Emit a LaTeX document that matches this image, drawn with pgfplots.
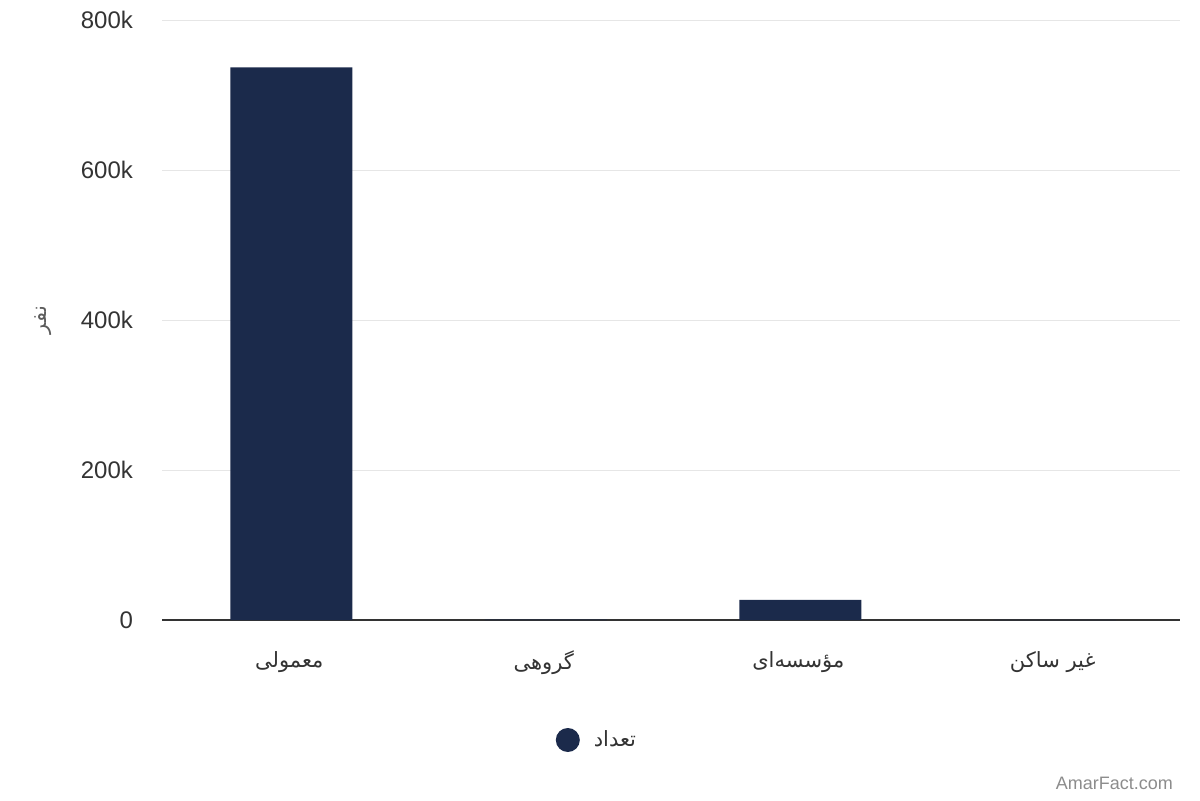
\documentclass[border=0pt]{standalone}
\usepackage{fontspec}
\usepackage{pgfplots}
\pgfplotsset{compat=1.18}
\setmainfont{Liberation Sans}
\newfontfamily\arabicfont[Script=Arabic]{DejaVu Sans}
\TeXXeTstate=1
\definecolor{barblue}{HTML}{1B2A4B}
\definecolor{txt}{HTML}{333333}
\definecolor{gridc}{HTML}{E6E6E6}

\begin{document}
\begin{tikzpicture}
\useasboundingbox (0,0) rectangle (600pt,400pt);
\begin{axis}[
    at={(81pt,90pt)}, anchor=south west,
    width=509pt, height=300pt, scale only axis,
    xmin=-0.5, xmax=3.5,
    ymin=0, ymax=800000,
    axis x line*=bottom, axis y line*=left,
    x axis line style={-, draw=txt, line width=1pt},
    y axis line style={draw=none},
    major tick length=0pt,
    ymajorgrids=true,
    major grid style={draw=gridc, line width=0.5pt},
    ytick={0,200000,400000,600000,800000},
    yticklabels={0,200k,400k,600k,800k},
    scaled y ticks=false,
    yticklabel style={font=\fontsize{12}{14}\selectfont, text=txt, xshift=-11pt},
    xtick=data,
    xticklabels={
        {\arabicfont\beginR معمولی\endR},
        {\arabicfont\beginR گروهی\endR},
        {\arabicfont\beginR مؤسسه‌ای\endR},
        {\arabicfont\beginR غیر ساکن\endR}},
    xticklabel style={font=\fontsize{10.5}{13}\selectfont, text=txt, yshift=-12pt},
    ylabel={\arabicfont\beginR نفر\endR},
    ylabel style={font=\fontsize{10.5}{12}\selectfont, text=txt!80, at={(axis description cs:-0.117,0.5)}, anchor=center},
    legend style={at={(axis description cs:0.4282,-0.2)}, anchor=center, draw=none, fill=none,
        font=\fontsize{10.5}{13}\selectfont, text=txt},
    legend image code/.code={\fill[barblue] (0cm,0cm) circle (6pt);
        \path (-6pt,0pt) (11pt,0pt);},
]
\addplot[ybar, bar width=61pt, bar shift=1pt, fill=barblue, draw=none] coordinates {
    (0,737000) (1,400) (2,26700) (3,300)
};
\legend{{\arabicfont\beginR تعداد\endR}}
\end{axis}
\node[anchor=east, text=black!45, font=\fontsize{9}{11}\selectfont] at (590pt,8.5pt) {AmarFact.com};
\end{tikzpicture}
\end{document}
